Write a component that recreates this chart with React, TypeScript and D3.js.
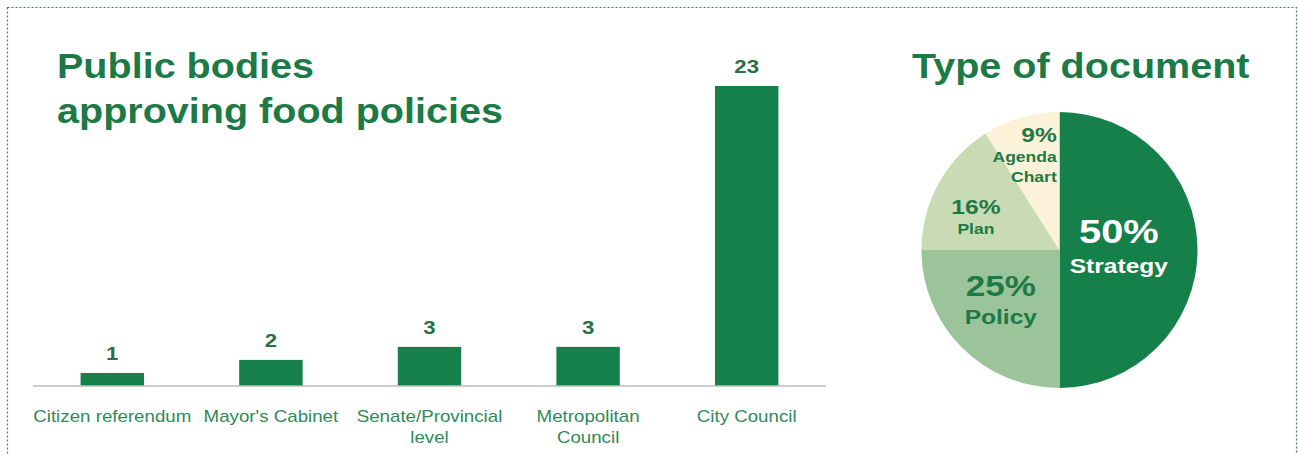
import React from "react";
import * as d3 from "d3";

const categories = [
  "Citizen referendum",
  "Mayor's Cabinet",
  "Senate/Provincial level",
  "Metropolitan Council",
  "City Council",
];
const categoryLines = [
  ["Citizen referendum"],
  ["Mayor's Cabinet"],
  ["Senate/Provincial", "level"],
  ["Metropolitan", "Council"],
  ["City Council"],
];
const counts = [1, 2, 3, 3, 23];

const docTypes = ["Strategy", "Policy", "Plan", "Agenda Chart"];
const docShares = [50, 25, 16, 9];
const docLabelLines = [["Strategy"], ["Policy"], ["Plan"], ["Agenda", "Chart"]];

const barTitle = ["Public bodies", "approving food policies"];
const pieTitle = "Type of document";

const W = 1298;
const H = 454;
const DARK = "#16804a";
const TEXT = "#1c7a46";
const SX = 1.17;
const STX = 1.13;
const FONT = "'Liberation Sans', Arial, sans-serif";

const pieColors = ["#16804a", "#9cc49a", "#c8dbb5", "#fcf2da"];

export default function App() {
  const x = d3
    .scaleBand<string>()
    .domain(categories)
    .range([33, 826])
    .paddingInner(0.6)
    .paddingOuter(0.3);
  const y = d3.scaleLinear().domain([0, 23]).range([386, 86]);

  const pieData = d3
    .pie<number>()
    .sort(null)
    .value((d) => d)(docShares);
  const R = 138;
  const cx = 1059.5;
  const cy = 250;
  const arc = d3.arc<d3.PieArcDatum<number>>().innerRadius(0).outerRadius(R);

  // label layout per slice: radius factor, font sizes, anchor, colour
  const labelStyle = [
    { rf: 0.43, big: 34, small: 21, anchor: "middle", color: "#ffffff", gap: 30, lh: 22, dx: 0, dy: -7 },
    { rf: 0.55, big: 30, small: 21, anchor: "middle", color: TEXT, gap: 28, lh: 22, dx: -5, dy: -8 },
    { rf: 0.65, big: 21, small: 15, anchor: "middle", color: TEXT, gap: 20, lh: 20, dx: -5, dy: 7 },
    { rf: 0.72, big: 21, small: 15, anchor: "end", color: TEXT, gap: 20, lh: 20, dx: 25, dy: -13 },
  ];

  const stretch = (tx: number, ty: number, s = SX) => `translate(${tx},${ty}) scale(${s},1)`;

  return (
    <svg
      width={W}
      height={H}
      style={{ position: "absolute", left: 0, top: 0, background: "#fff" }}
      fontFamily={FONT}
    >
      <rect x={0} y={0} width={W} height={H} fill="#fff" />
      <rect
        x={7.5}
        y={7.5}
        width={1289}
        height={470}
        fill="none"
        stroke="#2f9058"
        strokeWidth={1.2}
        strokeDasharray="2,2"
      />

      {/* Bar chart title */}
      {barTitle.map((t, i) => (
        <text
          key={t}
          transform={stretch(57, 78 + i * 45, STX)}
          fontSize={35}
          fontWeight="bold"
          fill={TEXT}
        >
          {t}
        </text>
      ))}

      {/* Bars */}
      {categories.map((c, i) => (
        <rect
          key={c}
          x={x(c)}
          y={y(counts[i])}
          width={x.bandwidth()}
          height={y(0) - y(counts[i])}
          fill={DARK}
        />
      ))}
      <line x1={33} x2={826} y1={y(0)} y2={y(0)} stroke="#bdbdbd" strokeWidth={1.5} />

      {/* value labels */}
      {categories.map((c, i) => (
        <text
          key={c + "v"}
          transform={stretch((x(c) as number) + x.bandwidth() / 2, y(counts[i]) - 13)}
          textAnchor="middle"
          fontSize={19}
          fontWeight="bold"
          fill="#2a6e48"
        >
          {counts[i]}
        </text>
      ))}

      {/* category labels */}
      {categories.map((c, i) =>
        categoryLines[i].map((line, j) => (
          <text
            key={c + j}
            transform={stretch((x(c) as number) + x.bandwidth() / 2, 422 + j * 21)}
            textAnchor="middle"
            fontSize={16}
            fill="#2f8a58"
          >
            {line}
          </text>
        ))
      )}

      {/* Pie title */}
      <text transform={stretch(912, 78, STX)} fontSize={35} fontWeight="bold" fill={TEXT}>
        {pieTitle}
      </text>

      <g transform={`translate(${cx},${cy})`}>
        {pieData.map((d, i) => (
          <path key={docTypes[i]} d={arc(d) as string} fill={pieColors[i]} />
        ))}
        {pieData.map((d, i) => {
          const s = labelStyle[i];
          const la = d3
            .arc<d3.PieArcDatum<number>>()
            .innerRadius(R * s.rf)
            .outerRadius(R * s.rf);
          const [lx, ly] = la.centroid(d);
          const lines = docLabelLines[i];
          const px = lx + s.dx;
          const py = ly + s.dy;
          return (
            <g key={docTypes[i] + "l"} fill={s.color} fontWeight="bold" textAnchor={s.anchor}>
              <text transform={stretch(px, py)} fontSize={s.big}>
                {docShares[i] + "%"}
              </text>
              {lines.map((ln, j) => (
                <text
                  key={ln}
                  transform={stretch(px, py + s.gap + j * s.lh)}
                  fontSize={s.small}
                >
                  {ln}
                </text>
              ))}
            </g>
          );
        })}
      </g>
    </svg>
  );
}
